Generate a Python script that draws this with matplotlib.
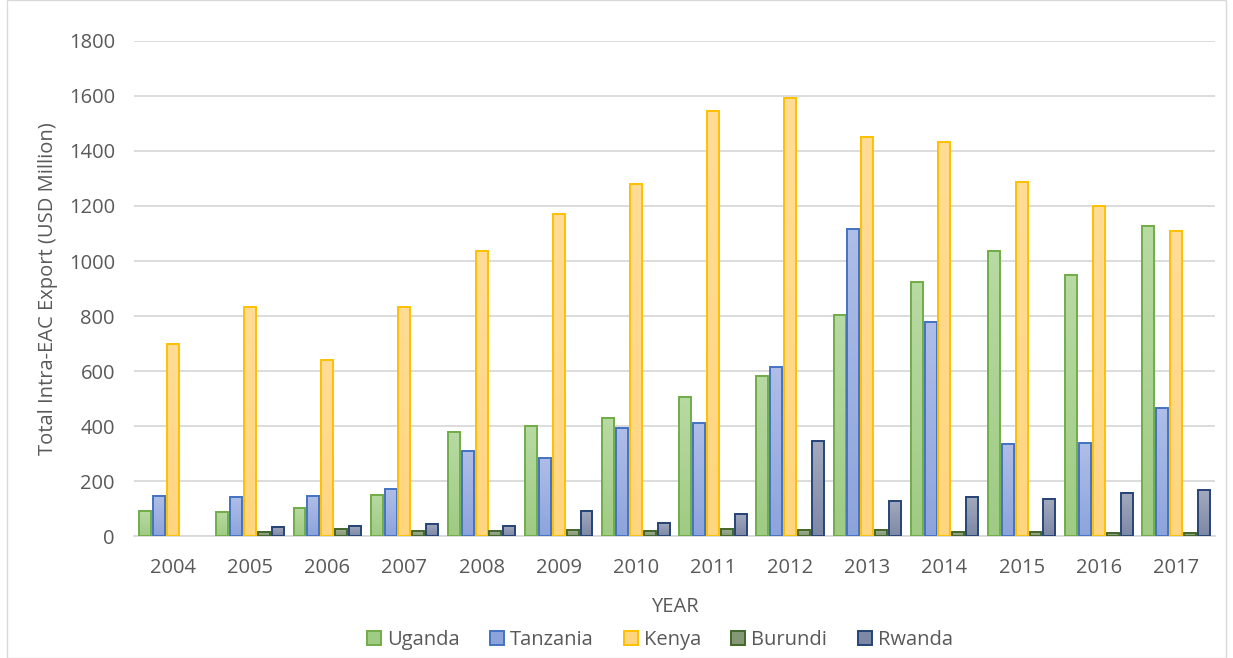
import numpy as np
import matplotlib.pyplot as plt
from matplotlib.patches import Rectangle
from matplotlib.colors import LinearSegmentedColormap

years = ['2004', '2005', '2006', '2007', '2008', '2009', '2010',
         '2011', '2012', '2013', '2014', '2015', '2016', '2017']
uganda = [90, 88, 102, 150, 378, 400, 430, 505, 582, 803, 922, 1037, 950, 1127]
tanzania = [148, 143, 148, 170, 310, 285, 395, 410, 614, 1117, 780, 337, 338, 465]
kenya = [700, 832, 640, 832, 1037, 1170, 1280, 1545, 1593, 1450, 1432, 1287, 1200, 1110]
burundi = [0, 17, 28, 18, 20, 22, 20, 27, 22, 22, 15, 15, 12, 12]
rwanda = [0, 35, 37, 45, 38, 93, 50, 80, 345, 127, 142, 135, 158, 167]

# name, values, top colour, bottom colour, edge colour
series = [
    ('Uganda', uganda, '#B8DAA3', '#9FCB84', '#70AD47'),
    ('Tanzania', tanzania, '#AFBEE7', '#8DA4DB', '#4472C4'),
    ('Kenya', kenya, '#FFDC96', '#FFD57F', '#FFC000'),
    ('Burundi', burundi, '#A3B198', '#859875', '#43682B'),
    ('Rwanda', rwanda, '#A3AABE', '#7D88A5', '#264478'),
]

plt.rcParams['font.family'] = ['Open Sans', 'DejaVu Sans']
grey = '#595959'
fs = 14.5

fig = plt.figure(figsize=(12.33, 6.58), dpi=100)
ax = fig.add_axes([0.109, 0.185, 0.876, 0.753])

x = np.arange(len(years))
step = 0.18
width = 0.155
grad = np.linspace(1, 0, 64).reshape(-1, 1)
for i, (name, vals, top, bottom, edge) in enumerate(series):
    cmap = LinearSegmentedColormap.from_list(name, [bottom, top])
    bars = ax.bar(x + (i - 2) * step, vals, width, color='none', edgecolor=edge,
                  linewidth=1.4, zorder=3)
    for r in bars:
        h = r.get_height()
        if h <= 0:
            r.set_linewidth(0)
            continue
        ax.imshow(grad, cmap=cmap, vmin=0, vmax=1, aspect='auto', zorder=2.5,
                  extent=[r.get_x(), r.get_x() + r.get_width(), 0, h])

ax.set_xlim(-0.5, len(years) - 0.5)
ax.set_ylim(0, 1800)
ax.set_yticks(range(0, 1801, 200))
ax.set_xticks(x)
ax.set_xticklabels(years)
ax.grid(axis='y', color='#D9D9D9', linewidth=1.3, zorder=0)
for s in ['top', 'right', 'left']:
    ax.spines[s].set_visible(False)
ax.spines['bottom'].set_color('#D9D9D9')
ax.spines['bottom'].set_linewidth(1.3)
ax.tick_params(axis='x', length=0, labelsize=fs, labelcolor=grey, pad=16)
ax.tick_params(axis='y', length=0, labelsize=fs, labelcolor=grey, pad=14)
ax.set_xlabel('YEAR', fontsize=fs, color=grey, labelpad=13)
ax.set_ylabel('Total Intra-EAC Export (USD Million)', fontsize=fs, color=grey, labelpad=8)

handles = [Rectangle((0, 0), 1, 1, facecolor=s[3], edgecolor=s[4], linewidth=1.4)
           for s in series]
leg = fig.legend(handles, [s[0] for s in series], loc='center',
                 bbox_to_anchor=(0.535, 0.027), ncol=5, frameon=False, fontsize=fs,
                 handlelength=0.7, handleheight=0.7, handletextpad=0.3,
                 columnspacing=1.5, borderpad=0)
for t in leg.get_texts():
    t.set_color(grey)

fig.patches.append(Rectangle((0.006, 0.0), 0.988, 1.0, transform=fig.transFigure,
                             fill=False, edgecolor='#D9D9D9', linewidth=1))

fig.savefig('out.png', dpi=100)
